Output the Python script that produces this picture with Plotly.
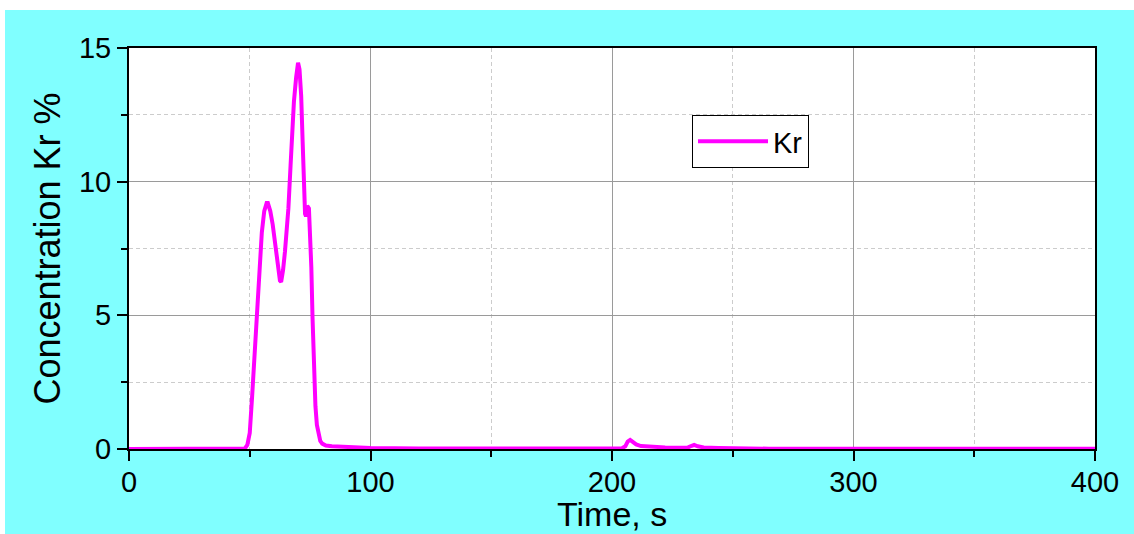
import plotly.graph_objects as go

# Kr concentration trace (time in s, concentration in %)
time_s = [0, 46, 48, 49, 50, 51, 52, 53, 54, 55, 56, 57, 57.5, 58.5, 59.5,
          60.5, 61.5, 62.5, 63, 63.8, 64.6, 65.3, 66, 66.9, 67.6, 68.3, 69.2,
          70, 70.6, 71.3, 71.9, 72.4, 72.9, 73.3, 73.8, 74.5, 75.0, 75.5, 76.0,
          76.6, 77.2, 77.8, 78.5, 79.2, 80, 81.5, 84, 90, 100, 120, 150, 180,
          200, 204, 205.5, 206.5, 207.5, 208.5, 210, 212, 216, 222, 228, 231.5,
          233, 234, 235.5, 238, 244, 252, 265, 300, 350, 400]
kr_conc = [0, 0, 0.02, 0.15, 0.6, 2.0, 3.6, 5.2, 6.8, 8.1, 8.9, 9.2, 9.2, 8.9,
           8.4, 7.6, 6.8, 6.3, 6.25, 6.7, 7.4, 8.2, 9.0, 10.6, 12.0, 13.0, 13.9,
           14.45, 14.2, 13.2, 11.5, 9.8, 8.8, 8.7, 9.1, 9.0, 8.2, 6.8, 4.9,
           2.9, 1.6, 0.9, 0.5, 0.3, 0.2, 0.13, 0.1, 0.07, 0.04, 0.02, 0.01, 0.01,
           0.01, 0.02, 0.1, 0.28, 0.34, 0.28, 0.17, 0.11, 0.08, 0.06, 0.05, 0.06,
           0.12, 0.15, 0.1, 0.06, 0.04, 0.02, 0.01, 0.01, 0.01, 0.01]

x_ticks = [0, 100, 200, 300, 400]
y_ticks = [0, 5, 10, 15]

W, H = 1134, 534
ML, MR, MT, MB = 129, 39, 48, 85
PW, PH = W - ML - MR, H - MT - MB

FONT = "Liberation Sans, Arial, sans-serif"
CYAN = "#80FFFF"
MAGENTA = "#FF00FF"


def px_x(p):
    return (p - ML) / PW


def px_y(p):
    return (H - MB - p) / PH


fig = go.Figure()
fig.add_trace(go.Scatter(
    x=time_s, y=kr_conc, mode="lines", name="Kr",
    line=dict(color=MAGENTA, width=4),
))

axis_common = dict(
    showline=True, linecolor="black", linewidth=2, mirror=True,
    ticks="outside", ticklen=10, tickwidth=2, tickcolor="black",
    showgrid=True, gridcolor="#9a9a9a", gridwidth=1,
    zeroline=False, layer="below traces", automargin=False,
    tickfont=dict(family=FONT, size=29, color="black"),
)

fig.update_xaxes(
    range=[0, 400], tickvals=x_ticks, ticklabelstandoff=-4,
    minor=dict(dtick=50, ticks="outside", ticklen=6, tickwidth=2,
               tickcolor="black", showgrid=True, gridcolor="#cccccc",
               griddash="4px,3px", gridwidth=1),
    **axis_common,
)
fig.update_yaxes(
    range=[0, 15], tickvals=y_ticks,
    minor=dict(dtick=2.5, ticks="outside", ticklen=6, tickwidth=2,
               tickcolor="black", showgrid=True, gridcolor="#cccccc",
               griddash="4px,3px", gridwidth=1),
    title=dict(text="Concentration Kr %",
               font=dict(family=FONT, size=36, color="black"), standoff=7),
    **axis_common,
)

# x-axis title, set along the bottom edge under the tick labels
fig.add_annotation(
    text="Time, s", xref="paper", yref="paper",
    x=0.5, y=px_y(H), xanchor="center", yanchor="bottom",
    showarrow=False, borderpad=0,
    font=dict(family=FONT, size=34, color="black"),
)

# white strips along the top and left page edges
shapes = [
    dict(type="rect", xref="paper", yref="paper", layer="below",
         x0=px_x(0), x1=px_x(W), y0=px_y(10), y1=px_y(0),
         fillcolor="white", line=dict(width=0)),
    dict(type="rect", xref="paper", yref="paper", layer="below",
         x0=px_x(0), x1=px_x(5), y0=px_y(H), y1=px_y(0),
         fillcolor="white", line=dict(width=0)),
]

fig.update_layout(
    width=W, height=H,
    margin=dict(l=ML, r=MR, t=MT, b=MB, autoexpand=False),
    paper_bgcolor=CYAN, plot_bgcolor="white",
    shapes=shapes,
    showlegend=True,
    legend=dict(x=px_x(692), y=px_y(115), xanchor="left", yanchor="top",
                bgcolor="white", bordercolor="black", borderwidth=1,
                font=dict(family=FONT, size=29, color="black"),
                itemwidth=70),
)

fig.write_html("out.html")
